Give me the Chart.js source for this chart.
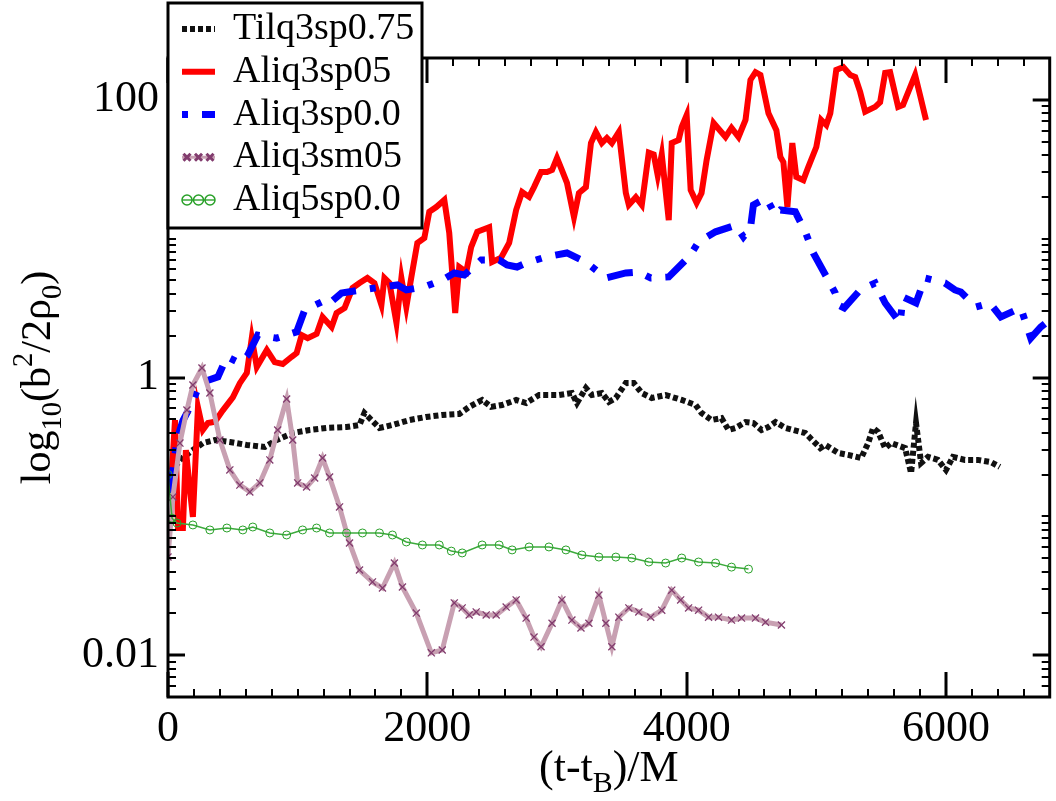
<!DOCTYPE html>
<html>
<head>
<meta charset="utf-8">
<script src="https://cdn.jsdelivr.net/npm/chart.js@4.4.0/dist/chart.umd.min.js"></script>
<style>
  html, body { margin: 0; padding: 0; background: #fff; }
  #wrap { width: 1056px; height: 801px; position: relative; }
</style>
</head>
<body>
<div id="wrap"><canvas id="chart"></canvas></div>
<script>
// series values: x in M, y is b^2/2rho0 (log axis)
const tilqX = [54,92,169,269,362,477,608,746,838,962,1092,1223,1377,1477,1515,1569,1631,1731,1862,1992,2115,2246,2323,2423,2492,2577,2685,2762,2862,3015,3115,3154,3223,3269,3346,3400,3454,3531,3592,3654,3731,3838,3962,4069,4115,4192,4269,4323,4377,4454,4515,4577,4631,4685,4762,4915,5031,5069,5169,5246,5346,5400,5438,5477,5531,5577,5685,5731,5769,5808,5862,5938,6000,6054,6146,6246,6346,6415];
const tilqY = [0.227,0.255,0.29,0.337,0.355,0.343,0.327,0.316,0.355,0.398,0.419,0.433,0.44,0.455,0.555,0.494,0.433,0.455,0.494,0.52,0.537,0.546,0.614,0.689,0.614,0.634,0.689,0.655,0.748,0.748,0.773,0.655,0.84,0.748,0.773,0.667,0.712,0.913,0.913,0.773,0.712,0.748,0.689,0.634,0.555,0.494,0.51,0.419,0.433,0.478,0.47,0.419,0.44,0.478,0.433,0.398,0.31,0.327,0.286,0.277,0.263,0.337,0.433,0.405,0.31,0.337,0.31,0.205,0.47,0.242,0.268,0.255,0.216,0.268,0.255,0.255,0.246,0.227];

const sp05X = [31,54,77,115,138,169,192,231,269,308,362,423,500,554,608,646,685,762,823,885,954,992,1031,1077,1146,1192,1262,1300,1362,1423,1477,1538,1592,1646,1669,1708,1762,1800,1838,1877,1923,1977,2015,2069,2131,2169,2215,2246,2300,2338,2385,2477,2500,2569,2631,2685,2731,2785,2823,2877,2923,2962,3000,3038,3077,3131,3169,3223,3262,3300,3346,3385,3423,3477,3531,3554,3608,3654,3708,3746,3777,3808,3862,3885,3938,3962,4000,4031,4077,4115,4154,4208,4300,4346,4400,4454,4492,4531,4569,4631,4692,4723,4746,4777,4815,4846,4900,4938,5000,5038,5077,5108,5154,5208,5262,5300,5338,5377,5454,5492,5531,5569,5631,5669,5762,5800,5846];
const sp05Y = [0.216,0.494,0.0824,0.0824,0.30,0.155,0.099,0.61,0.42,0.47,0.48,0.58,0.72,0.91,1.08,1.92,1.19,1.58,1.29,1.25,1.41,1.50,2.02,1.92,2.06,2.73,2.31,2.91,3.17,4.41,4.79,5.21,4.79,3.33,5.21,4.79,2.47,5.21,3.22,5.30,9.3,10.1,15.6,16.9,19.0,11.0,2.91,6.25,5.75,8.7,11.2,12.1,6.8,7.3,9.3,16.1,21.7,20.0,23.5,30.2,30.2,31.2,38.1,31.2,25.2,14.3,21.3,23.5,48.8,58.6,48.8,53.1,48.8,58.6,21.3,17.5,19.9,17.5,41.6,40.4,28.5,40.4,13.6,48.8,51.3,63.7,77.6,22.4,18.1,21.3,36.8,68,54,62.7,54,71.6,139,158,151,80,60.5,38.7,35.6,16.9,48.8,27.8,26.4,32.8,45.7,71.6,65.8,80,164,172,151,146,114,82,89,96,156,158,89,92,151,108,71.6];

const sp00X = [15,69,115,185,246,385,454,554,615,692,838,915,992,1054,1185,1231,1338,1492,1654,1769,1838,1977,2115,2208,2285,2415,2554,2615,2692,2762,2915,3077,3223,3377,3531,3631,3723,3862,3992,4038,4092,4223,4377,4438,4492,4515,4615,4685,4723,4838,4915,4977,5062,5146,5169,5215,5338,5454,5531,5646,5669,5769,5838,5992,6069,6115,6231,6338,6423,6577,6654,6731,6800];
const sp00Y = [0.147,0.355,0.49,0.65,0.91,1.01,1.41,1.27,1.45,2.02,1.92,2.02,2.13,3.06,3.50,3.33,4.06,4.27,4.49,4.64,4.27,4.49,5.04,5.66,5.47,7.02,7.02,6.46,6.25,6.68,7.38,7.89,6.79,5.21,5.66,5.75,5.21,5.30,7.02,7.89,9.46,11.2,12.5,10.3,11.9,17.5,19.6,14.8,16.1,15.6,11.2,7.89,5.66,4.06,3.33,3.17,4.27,4.79,3.44,2.47,3.80,3.44,5.21,4.79,4.27,4.13,3.22,3.44,2.73,3.17,1.92,2.31,2.6];

const sm05X = [0,38,92,146,192,262,323,400,477,554,631,708,785,846,915,962,1000,1069,1131,1192,1246,1323,1400,1477,1577,1654,1746,1808,1915,2031,2115,2208,2269,2323,2377,2454,2531,2608,2685,2762,2823,2877,2962,3038,3115,3185,3246,3323,3377,3423,3477,3554,3631,3723,3808,3885,3954,4015,4092,4169,4246,4346,4423,4531,4608,4731];
const sm05Y = [0.051,0.138,0.337,0.583,0.883,1.17,0.773,0.355,0.216,0.168,0.15,0.174,0.255,0.419,0.7,0.355,0.174,0.163,0.189,0.263,0.192,0.117,0.0643,0.0411,0.0337,0.0305,0.0461,0.031,0.0201,0.0104,0.0109,0.0238,0.0219,0.0195,0.0205,0.0195,0.0195,0.0222,0.025,0.0185,0.0135,0.0115,0.017,0.025,0.0179,0.0157,0.017,0.0271,0.017,0.0115,0.0188,0.0219,0.0205,0.0188,0.0211,0.0294,0.025,0.0219,0.0211,0.0188,0.0188,0.0179,0.0185,0.0185,0.0173,0.0165];

const q5X = [0,31,69,192,323,454,577,654,785,915,1038,1146,1246,1377,1500,1631,1731,1838,1962,2092,2185,2269,2423,2554,2654,2785,2938,3069,3192,3323,3454,3577,3708,3838,3962,4092,4223,4346,4477];
const q5Y = [0.2,0.097,0.0895,0.0867,0.0798,0.0824,0.0798,0.0838,0.0759,0.0734,0.0798,0.0824,0.0759,0.0759,0.0759,0.0759,0.0734,0.0654,0.0622,0.0622,0.0562,0.0545,0.0622,0.0622,0.0573,0.0602,0.0602,0.0573,0.0527,0.0509,0.0509,0.0501,0.0469,0.0461,0.0501,0.0469,0.0461,0.0431,0.0417];

const seriesNames = ["Tilq3sp0.75", "Aliq3sp05", "Aliq3sp0.0", "Aliq3sm05", "Aliq5sp0.0"];

// tick labels
const xTickValues = [0, 2000, 4000, 6000];
const xTickLabels = ["0", "2000", "4000", "6000"];
const yTickValues = [0.01, 1, 100];
const yTickLabels = ["0.01", "1", "100"];

const SERIF = "'Liberation Serif', 'DejaVu Serif', serif";

function pts(xs, ys) {
  return xs.map((x, i) => ({ x: x, y: ys[i] }));
}

const datasets = [
  {
    label: seriesNames[0], data: pts(tilqX, tilqY),
    borderColor: "#111", borderWidth: 6, borderDash: [5, 3],
    pointRadius: 0, order: 5
  },
  {
    label: seriesNames[1], data: pts(sp05X, sp05Y),
    borderColor: "#ff0000", borderWidth: 6,
    pointRadius: 0, order: 4
  },
  {
    label: seriesNames[2], data: pts(sp00X, sp00Y),
    borderColor: "#0000ff", borderWidth: 7, borderDash: [26, 14, 6, 14],
    pointRadius: 0, order: 3
  },
  {
    label: seriesNames[3], data: pts(sm05X, sm05Y),
    borderColor: "rgb(200,160,178)", borderWidth: 5,
    pointStyle: "crossRot", pointRadius: 5, pointBorderWidth: 1.3,
    pointBorderColor: "rgb(130,60,110)", order: 2
  },
  {
    label: seriesNames[4], data: pts(q5X, q5Y),
    borderColor: "rgb(60,170,60)", borderWidth: 1.5,
    pointStyle: "circle", pointRadius: 4, pointBorderWidth: 1,
    pointBorderColor: "rgb(40,160,40)", pointBackgroundColor: "rgba(0,0,0,0)", order: 1
  }
];

// text with sub/superscripts: parts = [[text, shift]] shift -1 sub, 1 sup
function richWidth(ctx, parts, size) {
  let w = 0;
  parts.forEach(p => {
    ctx.font = (p[1] ? size * 0.68 : size) + "px " + SERIF;
    w += ctx.measureText(p[0]).width;
  });
  return w;
}
function drawRich(ctx, parts, size, x0, y0) {
  let x = x0;
  parts.forEach(p => {
    const s = p[1] ? size * 0.68 : size;
    ctx.font = s + "px " + SERIF;
    const dy = p[1] === -1 ? size * 0.26 : (p[1] === 1 ? -size * 0.42 : 0);
    ctx.fillText(p[0], x, y0 + dy);
    x += ctx.measureText(p[0]).width;
  });
}

const axisFrame = {
  id: "axisFrame",
  afterDatasetsDraw(chart) {
    const { ctx, chartArea: a } = chart;
    const x = chart.scales.x, y = chart.scales.y;
    ctx.save();
    ctx.strokeStyle = "#000";
    ctx.lineCap = "butt";
    for (let v = 0; v <= x.max; v += 200) {
      const px = Math.round(x.getPixelForValue(v));
      const major = v % 2000 === 0;
      const len = major ? 25 : 8;
      ctx.lineWidth = major ? 3 : 2;
      ctx.beginPath();
      ctx.moveTo(px, a.bottom); ctx.lineTo(px, a.bottom - len);
      ctx.moveTo(px, a.top); ctx.lineTo(px, a.top + len);
      ctx.stroke();
    }
    for (let k = -3; k <= 2; k++) {
      for (let m = 1; m <= 9; m++) {
        const v = m * Math.pow(10, k);
        if (v < y.min * 0.999 || v > y.max * 1.001) continue;
        const py = Math.round(y.getPixelForValue(v));
        const major = m === 1 && k % 2 === 0;
        const len = major ? 17 : 8;
        ctx.lineWidth = major ? 3 : 2;
        ctx.beginPath();
        ctx.moveTo(a.left, py); ctx.lineTo(a.left + len, py);
        ctx.moveTo(a.right, py); ctx.lineTo(a.right - len, py);
        ctx.stroke();
      }
    }
    ctx.lineWidth = 3;
    ctx.strokeRect(a.left, a.top, a.right - a.left, a.bottom - a.top);
    ctx.restore();
  }
};

const titlesAndLegend = {
  id: "titlesAndLegend",
  afterDraw(chart) {
    const { ctx, chartArea: a } = chart;
    ctx.save();
    ctx.fillStyle = "#000";
    ctx.textBaseline = "alphabetic";

    // x axis title
    const xt = [["(t-t", 0], ["B", -1], [")/M", 0]];
    const xw = richWidth(ctx, xt, 44);
    drawRich(ctx, xt, 44, (a.left + a.right) / 2 - xw / 2, 781);

    // y axis title
    const yt = [["log", 0], ["10", -1], ["(b", 0], ["2", 1], ["/2\u03c1", 0], ["0", -1], [")", 0]];
    const yw = richWidth(ctx, yt, 42);
    ctx.save();
    ctx.translate(50, (a.top + a.bottom) / 2);
    ctx.rotate(-Math.PI / 2);
    drawRich(ctx, yt, 42, -yw / 2, 0);
    ctx.restore();

    // legend box
    const L = 168, T = 3, R = 422, B = 228;
    ctx.fillStyle = "#fff";
    ctx.fillRect(L, T, R - L, B - T);
    ctx.strokeStyle = "#000";
    ctx.lineWidth = 3;
    ctx.strokeRect(L, T, R - L, B - T);

    const x0 = 182, x1 = 215;
    chart.data.datasets.forEach((ds, i) => {
      const ry = 29 + i * 42.75;
      ctx.save();
      ctx.strokeStyle = ds.borderColor;
      ctx.lineWidth = ds.pointStyle ? Math.min(ds.borderWidth, 3) : ds.borderWidth;
      ctx.setLineDash(ds.borderDash || []);
      ctx.lineDashOffset = ds.borderDash && ds.borderDash.length === 4 ? 40 : 0;
      ctx.beginPath();
      ctx.moveTo(x0, ry); ctx.lineTo(x1, ry);
      ctx.stroke();
      ctx.setLineDash([]);
      if (ds.pointStyle) {
        for (let j = 0; j < 3; j++) {
          ctx.strokeStyle = ds.pointBorderColor;
          ctx.fillStyle = ds.pointBackgroundColor || "rgba(0,0,0,0)";
          Chart.helpers.drawPoint(ctx, {
            pointStyle: ds.pointStyle, radius: 5,
            borderWidth: ds.pointBorderWidth, rotation: 0
          }, x0 + 5 + j * 11.5, ry);
        }
      }
      ctx.restore();
      ctx.fillStyle = "#000";
      ctx.font = "38px " + SERIF;
      ctx.fillText(ds.label, 233, ry + 10);
    });
    ctx.restore();
  }
};

new Chart(document.getElementById("chart"), {
  type: "line",
  data: { datasets: datasets },
  options: {
    responsive: true,
    maintainAspectRatio: false,
    animation: false,
    elements: { line: { tension: 0 } },
    layout: { padding: { left: 0, top: 58, right: 4, bottom: 0 } },
    plugins: { legend: { display: false }, tooltip: { enabled: false } },
    scales: {
      x: {
        type: "linear", min: 0, max: 6800,
        grid: { display: false, drawTicks: false },
        border: { display: false },
        afterBuildTicks: s => { s.ticks = xTickValues.map(v => ({ value: v })); },
        afterFit: s => { s.height = 104; },
        ticks: {
          callback: (v, i) => xTickLabels[i],
          font: { family: SERIF, size: 44 }, color: "#000",
          padding: 6, maxRotation: 0, autoSkip: false
        }
      },
      y: {
        type: "logarithmic", min: 0.005, max: 200,
        grid: { display: false, drawTicks: false },
        border: { display: false },
        afterBuildTicks: s => { s.ticks = yTickValues.map(v => ({ value: v })); },
        afterFit: s => { s.width = 168; },
        ticks: {
          callback: (v, i) => yTickLabels[i],
          font: { family: SERIF, size: 44 }, color: "#000",
          padding: 9, autoSkip: false
        }
      }
    }
  },
  plugins: [axisFrame, titlesAndLegend]
});
</script>
</body>
</html>
